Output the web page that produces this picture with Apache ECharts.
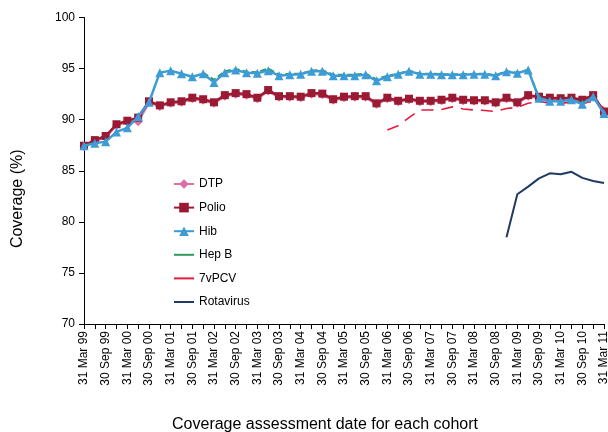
<!DOCTYPE html>
<html>
<head>
<meta charset="utf-8">
<style>
  html, body { margin: 0; padding: 0; background: #fff; }
  #chart { width: 608px; height: 432px; }
</style>
<script src="https://cdn.jsdelivr.net/npm/echarts@6/dist/echarts.min.js"></script>
</head>
<body>
<div id="chart"></div>
<script>
// quarterly cohort assessment dates
const dates = [
  '31 Mar 99', '30 Jun 99', '30 Sep 99', '31 Dec 99',
  '31 Mar 00', '30 Jun 00', '30 Sep 00', '31 Dec 00',
  '31 Mar 01', '30 Jun 01', '30 Sep 01', '31 Dec 01',
  '31 Mar 02', '30 Jun 02', '30 Sep 02', '31 Dec 02',
  '31 Mar 03', '30 Jun 03', '30 Sep 03', '31 Dec 03',
  '31 Mar 04', '30 Jun 04', '30 Sep 04', '31 Dec 04',
  '31 Mar 05', '30 Jun 05', '30 Sep 05', '31 Dec 05',
  '31 Mar 06', '30 Jun 06', '30 Sep 06', '31 Dec 06',
  '31 Mar 07', '30 Jun 07', '30 Sep 07', '31 Dec 07',
  '31 Mar 08', '30 Jun 08', '30 Sep 08', '31 Dec 08',
  '31 Mar 09', '30 Jun 09', '30 Sep 09', '31 Dec 09',
  '31 Mar 10', '30 Jun 10', '30 Sep 10', '31 Dec 10',
  '31 Mar 11'
]

const dtp = [
  87.35, 87.9, 88.3, 89.45, 89.8, 89.8, 91.7, 91.3, 91.6, 91.7, 92.05, 91.9,
  91.6, 92.3, 92.5, 92.4, 92.05, 92.8, 92.2, 92.2, 92.15, 92.5, 92.45, 91.9,
  92.15, 92.2, 92.2, 91.5, 92.05, 91.75, 91.95, 91.75, 91.75, 91.85, 92.05, 91.85,
  91.8, 91.8, 91.6, 92.05, 91.6, 92.3, 92.15, 92.05, 92.0, 92.05, 91.85, 92.3,
  90.7
]
const polio = [
  87.45, 88.0, 88.4, 89.55, 89.9, 90.2, 91.8, 91.4, 91.7, 91.8, 92.15, 92.0,
  91.7, 92.4, 92.6, 92.5, 92.15, 92.9, 92.3, 92.3, 92.25, 92.6, 92.55, 92.0,
  92.25, 92.3, 92.3, 91.6, 92.15, 91.85, 92.05, 91.85, 91.85, 91.95, 92.15, 91.95,
  91.9, 91.9, 91.7, 92.15, 91.7, 92.4, 92.25, 92.15, 92.1, 92.15, 91.95, 92.4,
  90.8
]
const hib = [
  87.45, 87.7, 87.85, 88.8, 89.2, 90.3, 91.7, 94.6, 94.8, 94.5, 94.2, 94.5,
  93.65, 94.6, 94.85, 94.6, 94.55, 94.8, 94.3, 94.4, 94.45, 94.75, 94.75, 94.3,
  94.3, 94.3, 94.4, 93.8, 94.2, 94.45, 94.75, 94.45, 94.45, 94.4, 94.4, 94.4,
  94.45, 94.45, 94.3, 94.7, 94.55, 94.85, 92.1, 91.8, 91.8, 91.95, 91.5, 92.25,
  90.6
]
const hepB = [
  null, null, null, null, null, null, null, null, null, null, null, 94.6,
  93.9, 94.75, 94.95, 94.7, 94.65, 95.0, 94.4, 94.5, 94.5, 94.8, 94.85, 94.4,
  94.4, 94.4, 94.5, 93.95, 94.3, 94.5, 94.8, 94.5, 94.5, 94.45, 94.45, 94.45,
  94.5, 94.5, 94.35, 94.75, 94.6, 94.9, 92.15, 91.85, 91.85, 92.0, 91.6, 92.3,
  90.7
]
const pcv = [
  null, null, null, null, null, null, null, null, null, null, null, null,
  null, null, null, null, null, null, null, null, null, null, null, null,
  null, null, null, null, 89.0, 89.4, 90.2, 90.95, 90.95, 91.0, 91.25, 91.05,
  90.95, 90.9, 90.8, 91.1, 91.2, 91.6, 91.8, 91.6, 91.6, 91.7, 91.6, 91.8,
  91.15
]
const rotavirus = [
  null, null, null, null, null, null, null, null, null, null, null, null,
  null, null, null, null, null, null, null, null, null, null, null, null,
  null, null, null, null, null, null, null, null, null, null, null, null,
  null, null, null, 78.5, 82.7, 83.45, 84.25, 84.75, 84.65, 84.9, 84.3, 84.0,
  83.8
]

const chart = echarts.init(document.getElementById('chart'), null, { renderer: 'canvas' })

const font = 'Liberation Sans, Arial, sans-serif'

// plain line in the legend for the series without markers
const lineOnly = name => ({ name: name, itemStyle: { opacity: 0 }, lineStyle: { type: 'solid' } })

chart.setOption({
  animation: false,
  textStyle: { fontFamily: font },
  grid: { left: 84, right: 4, top: 17.5, bottom: 108, outerBoundsMode: 'none' },
  legend: {
    orient: 'vertical',
    left: 168,
    top: 173,
    itemWidth: 20,
    itemHeight: 12,
    itemGap: 11.6,
    textStyle: { fontSize: 12, color: '#000', fontFamily: font },
    data: ['DTP', 'Polio', 'Hib', lineOnly('Hep B'), lineOnly('7vPCV'), lineOnly('Rotavirus')]
  },
  xAxis: {
    type: 'category',
    boundaryGap: false,
    data: dates,
    name: 'Coverage assessment date for each cohort',
    nameLocation: 'middle',
    nameGap: 93,
    nameTextStyle: { fontSize: 16, color: '#000', padding: [0, 38, 0, 0] },
    axisLine: { lineStyle: { color: '#000', width: 1 } },
    axisTick: { interval: 0, length: 5, lineStyle: { color: '#000' } },
    axisLabel: { interval: 1, rotate: 90, fontSize: 12, color: '#000', margin: 7 },
    splitLine: { show: false }
  },
  yAxis: {
    type: 'value',
    min: 70,
    max: 100,
    interval: 5,
    name: 'Coverage (%)',
    nameLocation: 'middle',
    nameGap: 58,
    nameTextStyle: { fontSize: 16, color: '#000', padding: [0, 56, 0, 0] },
    axisLine: { show: true, lineStyle: { color: '#000', width: 1 } },
    axisTick: { show: true, length: 5, lineStyle: { color: '#000' } },
    axisLabel: { fontSize: 12, color: '#000', margin: 9 },
    splitLine: { show: false }
  },
  series: [
    {
      name: 'DTP',
      type: 'line',
      data: dtp,
      showAllSymbol: true,
      symbol: 'diamond',
      symbolSize: 9,
      itemStyle: { color: '#DE6FA4' },
      lineStyle: { width: 2.5, color: '#DE6FA4' },
      z: 2
    },
    {
      name: 'Polio',
      type: 'line',
      data: polio,
      showAllSymbol: true,
      symbol: 'rect',
      symbolSize: 8,
      itemStyle: { color: '#9B1A33' },
      lineStyle: { width: 2.5, color: '#9B1A33' },
      z: 3
    },
    {
      name: 'Hib',
      type: 'line',
      data: hib,
      showAllSymbol: true,
      symbol: 'triangle',
      symbolSize: 9,
      itemStyle: { color: '#3D9BD6' },
      lineStyle: { width: 2.5, color: '#3D9BD6' },
      z: 5
    },
    {
      name: 'Hep B',
      type: 'line',
      data: hepB,
      symbol: 'none',
      itemStyle: { color: '#2E9A5B' },
      lineStyle: { width: 2, color: '#2E9A5B', type: [6, 3] },
      z: 4
    },
    {
      name: '7vPCV',
      type: 'line',
      data: pcv,
      symbol: 'none',
      itemStyle: { color: '#E8193E' },
      lineStyle: { width: 1.6, color: '#E8193E', type: [12, 8] },
      z: 4
    },
    {
      name: 'Rotavirus',
      type: 'line',
      data: rotavirus,
      symbol: 'none',
      itemStyle: { color: '#1F3A63' },
      lineStyle: { width: 2, color: '#1F3A63' },
      z: 4
    }
  ]
})
</script>
</body>
</html>
